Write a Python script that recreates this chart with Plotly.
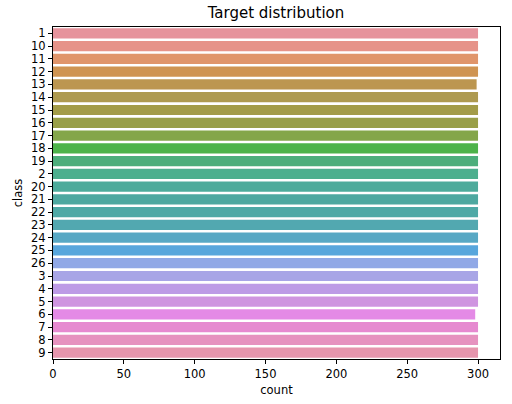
import plotly.graph_objects as go

classes = ["1", "10", "11", "12", "13", "14", "15", "16", "17", "18", "19", "2", "20",
           "21", "22", "23", "24", "25", "26", "3", "4", "5", "6", "7", "8", "9"]
counts = [300, 300, 300, 300, 299, 300, 300, 300, 300, 300, 300, 300, 300,
          300, 300, 300, 300, 300, 300, 300, 300, 300, 298, 300, 300, 300]
bar_colors = ["#e6939c", "#e69389", "#e0956b", "#cf9452", "#bc9650", "#ae9a50", "#a39c48",
              "#999f48", "#84a64a", "#4db34a", "#4dae7c", "#4daf8e", "#4dab9b", "#4da8a0",
              "#4ea9a6", "#52a8b0", "#58a8c4", "#58a6dc", "#90a8e6", "#a8a5e6", "#bd9be6",
              "#cf95e0", "#e48ae6", "#e68ad0", "#e692bf", "#e695ad"]

fig = go.Figure(
    go.Bar(
        x=counts,
        y=classes,
        orientation="h",
        marker=dict(color=bar_colors, line=dict(width=0)),
        width=0.8,
    )
)

axis_style = dict(
    showline=True, linewidth=1, linecolor="black", mirror=True,
    ticks="outside", ticklen=4, tickcolor="black", showgrid=False, zeroline=False,
    tickfont=dict(size=11.5, color="black"), automargin=False,
)

fig.update_layout(
    width=512,
    height=404,
    margin=dict(l=53, r=12, t=27, b=45),
    plot_bgcolor="white",
    paper_bgcolor="white",
    font=dict(family="DejaVu Sans", size=11.5, color="black"),
    title=dict(text="Target distribution", x=0.539, xanchor="center", y=0.968, yanchor="middle",
               font=dict(size=15)),
    showlegend=False,
)
fig.update_xaxes(axis_style, range=[0, 315.5], tickvals=[0, 50, 100, 150, 200, 250, 300],
                 title=dict(text="count", standoff=6, font=dict(size=11.5)))
fig.update_yaxes(axis_style, type="category", categoryorder="array", categoryarray=classes,
                 tickmode="array", tickvals=classes, ticktext=classes,
                 range=[25.5, -0.5], title=dict(text="class", standoff=6, font=dict(size=11.5)))

# drop the default 8px page margin so the figure sits at the window's corner
fig.write_html("out.html", config={"displayModeBar": False},
               post_script="document.body.style.margin='0';")
